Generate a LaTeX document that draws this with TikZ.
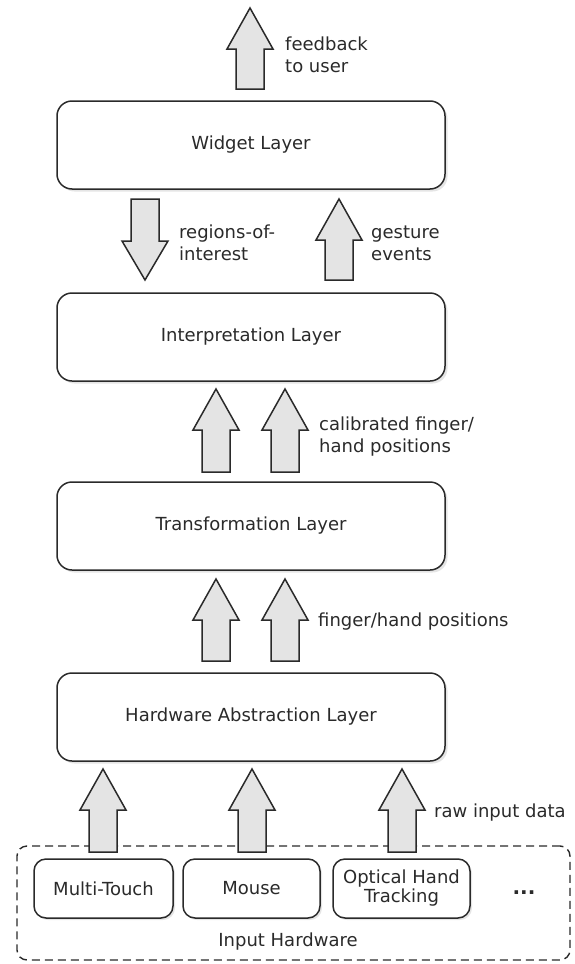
\documentclass[tikz,border=0pt]{standalone}
\usepackage{fontspec}
\setmainfont{DejaVu Sans}
\usetikzlibrary{shadows}
\definecolor{ink}{HTML}{2A2A2A}
\definecolor{arrfill}{HTML}{E4E4E4}
\tikzset{
  layer/.style={draw=ink, line width=1.5pt, rounded corners=15pt, fill=white,
    minimum width=388pt, minimum height=88pt, inner sep=0pt, text=ink,
    drop shadow={fill=black, opacity=0.10, shadow xshift=2.5pt, shadow yshift=-2.5pt}},
  devbox/.style={draw=ink, line width=1.5pt, rounded corners=12pt, fill=white,
    minimum height=59pt, inner sep=0pt, text=ink, align=center,
    drop shadow={fill=black, opacity=0.10, shadow xshift=2pt, shadow yshift=-2pt}},
  fatarr/.style={draw=ink, line width=1.5pt, fill=arrfill, line join=miter},
  lbl/.style={anchor=west, inner sep=0pt, align=left, text=ink},
}
% up arrow: #1 center x, #2 tip y, #3 bottom y
\newcommand\myuparrow[3]{%
  \draw[fatarr] ({#1},{#2}) -- ({#1+23},{#2+41}) -- ({#1+14},{#2+41}) -- ({#1+14},{#3})
    -- ({#1-14},{#3}) -- ({#1-14},{#2+41}) -- ({#1-23},{#2+41}) -- cycle;}
% down arrow: #1 center x, #2 top y, #3 tip y
\newcommand\mydownarrow[3]{%
  \draw[fatarr] ({#1},{#3}) -- ({#1+23},{#3-39}) -- ({#1+14},{#3-39}) -- ({#1+14},{#2})
    -- ({#1-14},{#2}) -- ({#1-14},{#3-39}) -- ({#1-23},{#3-39}) -- cycle;}
\begin{document}
\begin{tikzpicture}[x=1pt, y=-1pt, font=\fontsize{18}{22}\selectfont]
\useasboundingbox (0,0) rectangle (575,964);

% layers
\node[layer] (widget) at (251,145) {Widget Layer};
\node[layer] (interp) at (251,337) {Interpretation Layer};
\node[layer] (trans)  at (251,526) {Transformation Layer};
\node[layer] (hal)    at (251,717) {Hardware Abstraction Layer};

% input hardware group
\node[draw=ink, line width=1.4pt, dashed, dash pattern=on 8pt off 5pt, rounded corners=10pt,
  minimum width=553pt, minimum height=114pt, inner sep=0pt] (inhw) at (293.5,903) {};
\node[devbox, minimum width=139pt] (mt) at (103.5,888.5) {Multi-Touch};
\node[devbox, minimum width=137pt] (mouse) at (251.5,888.5) {Mouse};
\node[devbox, minimum width=137pt] (oht) at (401.5,888.5) {Optical Hand\\[-3pt]Tracking};
\node[text=ink, inner sep=0pt, font=\fontsize{20}{22}\selectfont\bfseries] (dots) at (524,893) {...};
\node[text=ink, inner sep=0pt] (inlbl) at (288,942) {Input Hardware};

% arrows
\myuparrow{250}{8}{89}
\mydownarrow{145}{199}{280}
\myuparrow{339}{199}{280}
\myuparrow{216}{389}{472}
\myuparrow{285}{389}{472}
\myuparrow{216}{579}{661}
\myuparrow{285}{579}{661}
\myuparrow{103}{769}{852}
\myuparrow{252}{769}{852}
\myuparrow{402}{769}{852}

% labels
\node[lbl] (l1) at (285,55) {feedback\\to user};
\node[lbl] (l2) at (179,243) {regions-of-\\interest};
\node[lbl] (l3) at (371,243) {gesture\\events};
\node[lbl] (l4) at (319,437) {calibrated finger/\\hand positions};
\node[lbl] (l5) at (318,622) {finger/hand positions};
\node[lbl] (l6) at (434,813) {raw input data};
\end{tikzpicture}
\end{document}
